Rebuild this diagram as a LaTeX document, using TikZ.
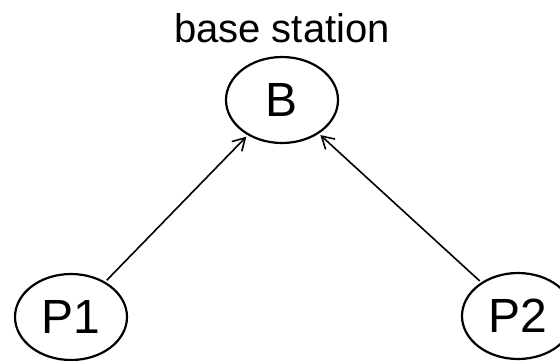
\documentclass[tikz,border=0pt]{standalone}
\usepackage{fontspec}
\setmainfont{Liberation Sans}
\usetikzlibrary{shapes.geometric,arrows.meta}
\begin{document}
\begin{tikzpicture}[x=0.5pt,y=-0.5pt,
  station/.style={draw, ellipse, line width=1.1pt, inner sep=0pt,
    minimum width=56pt, minimum height=43pt, font=\fontsize{24}{26}\selectfont},
  link/.style={line width=0.8pt, -{Straight Barb[length=6pt,width=7pt]}, shorten >=1pt, shorten <=1pt}]
  \useasboundingbox (0,0) rectangle (560,360);
  \node[font=\fontsize{20}{22}\selectfont] (title) at (282,28) {base station};
  \node[station] (B) at (282,100) {B};
  \node[station] (P1) at (71,317) {P1};
  \node[station] (P2) at (518,316) {P2};
  \draw[link] (P1) -- (B);
  \draw[link] (P2) -- (B);
\end{tikzpicture}
\end{document}
